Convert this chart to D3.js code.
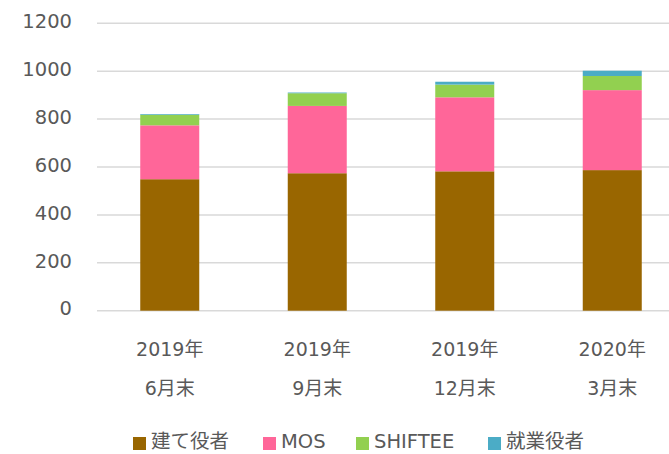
<!DOCTYPE html>
<html><head><meta charset="utf-8">
<script src="https://cdn.jsdelivr.net/npm/d3@7"></script>
<style>html,body{margin:0;padding:0;background:#fff;overflow:hidden}</style>
</head><body>
<svg id="c" width="669" height="454"></svg>
<script>
const categories = [["2019年","6月末"],["2019年","9月末"],["2019年","12月末"],["2020年","3月末"]];
const seriesNames = ["建て役者","MOS","SHIFTEE","就業役者"];
const tateyakusha = [549, 574, 582, 587];
const mos = [225, 281, 309, 334];
const shiftee = [44, 53, 53, 59];
const shugyo = [3, 3, 12, 22];
const yTicks = [0, 200, 400, 600, 800, 1000, 1200];
const colors = ["#996600", "#FF6699", "#92D050", "#4BACC6"];

const font = "'DejaVu Sans', 'Noto Sans CJK JP', sans-serif";
const svg = d3.select("#c");
const keys = categories.map((c,i)=>i);
const x = d3.scaleBand().domain(keys).range([96, 686]).paddingInner(0.6).paddingOuter(0.3);
const y = d3.scaleLinear().domain([0, 1200]).range([310.7, 23.3]);

// gridlines
svg.append("g").selectAll("line").data(yTicks).join("line")
  .attr("x1", 97).attr("x2", 669)
  .attr("y1", d=>y(d)).attr("y2", d=>y(d))
  .attr("stroke", "#d9d9d9").attr("stroke-width", 1.5);

// y axis labels
const yAxis = d3.axisLeft(y).tickValues(yTicks).tickFormat(d3.format("d")).tickSize(0).tickPadding(0);
const ya = svg.append("g").attr("transform","translate(72,0)").call(yAxis);
ya.select(".domain").remove();
ya.selectAll("text").attr("font-family", font).attr("font-size", 19.5)
  .attr("fill", "#595959").attr("dy", "0.22em");

// stack
const rows = keys.map(i => ({i, a: tateyakusha[i], b: mos[i], c: shiftee[i], d: shugyo[i]}));
const stack = d3.stack().keys(["a","b","c","d"])(rows);
svg.append("g").selectAll("g").data(stack).join("g")
  .attr("fill", (d,k)=>colors[k])
  .selectAll("rect").data(d=>d).join("rect")
  .attr("x", d=>x(d.data.i)).attr("width", x.bandwidth())
  .attr("y", d=>y(d[1])).attr("height", d=>y(d[0])-y(d[1]));

// x labels
const xl = svg.append("g").selectAll("g").data(keys).join("g")
  .attr("transform", i=>`translate(${x(i)+x.bandwidth()/2},0)`);
xl.append("text").attr("y", 356).text(i=>categories[i][0]);
xl.append("text").attr("y", 395).text(i=>categories[i][1]);
xl.selectAll("text").attr("text-anchor","middle").attr("font-family", font)
  .attr("font-size", 19).attr("fill", "#595959");

// legend
const legX = [133, 263, 356, 488];
const lg = svg.append("g").selectAll("g").data(seriesNames).join("g")
  .attr("transform", (d,k)=>`translate(${legX[k]},0)`);
lg.append("rect").attr("x",0).attr("y",437).attr("width",13).attr("height",13).attr("fill",(d,k)=>colors[k]);
lg.append("text").attr("x",18).attr("y",448).text(d=>d)
  .attr("font-family", font).attr("font-size", 19.5).attr("fill", "#595959");
</script>
</body></html>
